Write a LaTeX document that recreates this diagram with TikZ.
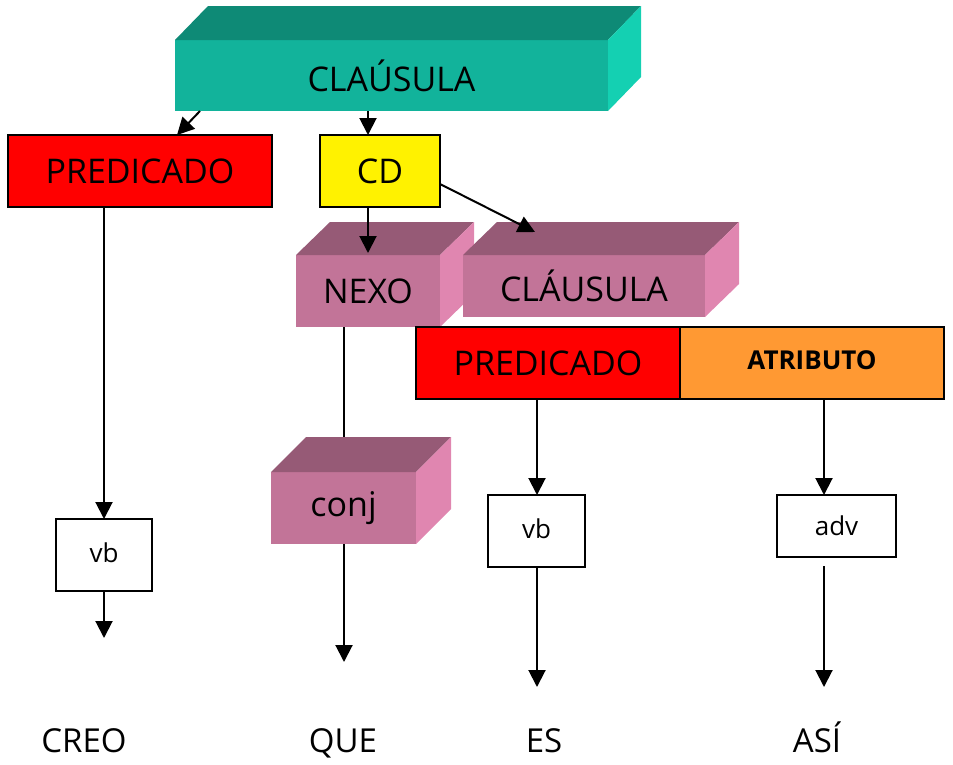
\documentclass[tikz,border=0pt]{standalone}
\usepackage{fontspec}
\setmainfont{Open Sans}
\usetikzlibrary{arrows.meta,calc}
\definecolor{tealF}{RGB}{18,179,155}
\definecolor{tealT}{RGB}{14,138,118}
\definecolor{tealS}{RGB}{20,208,178}
\definecolor{pinkF}{RGB}{194,116,152}
\definecolor{pinkT}{RGB}{150,90,118}
\definecolor{pinkS}{RGB}{224,134,176}
\definecolor{orangeA}{RGB}{255,153,51}
\tikzset{
  big/.style={font=\fontsize{34}{40}\selectfont},
  small/.style={font=\fontsize{26}{30}\selectfont},
  flatbox/.style={draw=black, line width=1.5pt, inner sep=0pt, outer sep=0pt, big},
  front/.style={inner sep=0pt, outer sep=0pt, big},
  arr/.style={-{Triangle[width=17pt,length=17pt]}, line width=2pt},
  ln/.style={line width=2pt},
  word/.style={font=\fontsize{33}{40}\selectfont, inner sep=0pt, anchor=base}
}
\begin{document}
\begin{tikzpicture}[x=1pt,y=-1pt]
\useasboundingbox (0,0) rectangle (953,764);

% top CLAUSULA (3D)
\node[front, fill=tealF, minimum width=433pt, minimum height=71pt] (T) at (391.5,75.5) {CLAÚSULA};
\fill[tealT] (T.north west) -- ($(T.north west)+(33,-34)$) -- ($(T.north east)+(33,-34)$) -- (T.north east) -- cycle;
\fill[tealS] (T.north east) -- ($(T.north east)+(33,-34)$) -- ($(T.south east)+(33,-34)$) -- (T.south east) -- cycle;

% first row
\node[flatbox, fill=red, minimum width=264pt, minimum height=72pt] (P1) at (140,171) {PREDICADO};
\node[flatbox, fill=yellow, minimum width=120pt, minimum height=72pt] (CD) at (380,171) {CD};

% NEXO (3D)
\node[front, fill=pinkF, minimum width=144pt, minimum height=72pt] (N) at (368,291) {NEXO};
\fill[pinkT] (N.north west) -- ($(N.north west)+(34,-33)$) -- ($(N.north east)+(34,-33)$) -- (N.north east) -- cycle;
\fill[pinkS] (N.north east) -- ($(N.north east)+(34,-33)$) -- ($(N.south east)+(34,-33)$) -- (N.south east) -- cycle;

% CLAUSULA (3D, pink)
\node[front, fill=pinkF, minimum width=242pt, minimum height=62pt] (C2) at (584,286) {CLÁUSULA};
\fill[pinkT] (C2.north west) -- ($(C2.north west)+(34,-33)$) -- ($(C2.north east)+(34,-33)$) -- (C2.north east) -- cycle;
\fill[pinkS] (C2.north east) -- ($(C2.north east)+(34,-33)$) -- ($(C2.south east)+(34,-33)$) -- (C2.south east) -- cycle;

% second row
\node[flatbox, fill=red, minimum width=264pt, minimum height=72pt] (P2) at (548,363) {PREDICADO};
\node[flatbox, fill=orangeA, minimum width=264pt, minimum height=72pt, font=\fontsize{26}{30}\selectfont\bfseries] (A) at (812,363) {\raisebox{5pt}{ATRIBUTO}};

% conj (3D)
\node[front, fill=pinkF, minimum width=145pt, minimum height=72pt] (CJ) at (343.5,508) {conj};
\fill[pinkT] (CJ.north west) -- ($(CJ.north west)+(35,-35)$) -- ($(CJ.north east)+(35,-35)$) -- (CJ.north east) -- cycle;
\fill[pinkS] (CJ.north east) -- ($(CJ.north east)+(35,-35)$) -- ($(CJ.south east)+(35,-35)$) -- (CJ.south east) -- cycle;

% small boxes
\node[flatbox, fill=white, small, minimum width=96pt, minimum height=72pt] (V1) at (104,555) {\raisebox{4pt}{vb}};
\node[flatbox, fill=white, small, minimum width=97pt, minimum height=72pt] (V2) at (536.5,531) {\raisebox{4pt}{vb}};
\node[flatbox, fill=white, small, minimum width=119pt, minimum height=62pt] (ADV) at (836.5,526) {adv};

% words
\node[word] (w1) at (84,752) {CREO};
\node[word] (w2) at (343,752) {QUE};
\node[word] (w3) at (544,752) {ES};
\node[word] (w4) at (817,752) {ASÍ};

% free ends
\coordinate (e1) at (104,638);
\coordinate (e2) at (344,662);
\coordinate (e3) at (537,687);
\coordinate (e4) at (824,687);

% connectors
\draw[arr] ($(T.south west)+(25,0)$) -- ($(P1.north)+(37,0)$);
\coordinate (c1) at ($(CD.north)+(-12,0)$);
\draw[arr] (T.south -| c1) -- (c1);
\draw[arr] (CD.south -| N.north) -- ($(N.north)+(0,-2)$);
\draw[arr] ($(CD.east)+(0,13)$) -- ($(C2.north)+(-49,-23)$);
\draw[ln] ($(N.south)+(-24,0)$) -- ($(CJ.north)+(0.5,-35)$);
\draw[arr] (CJ.south -| e2) -- (e2);
\draw[arr] (P1.south -| V1.north) -- (V1.north);
\draw[arr] (V1) -- (e1);
\draw[arr] (P2.south -| e3) -- (V2.north -| e3);
\draw[arr] (V2.south -| e3) -- (e3);
\draw[arr] (A.south -| e4) -- (ADV.north -| e4);
\draw[arr] ($(ADV.south -| e4)+(0,9)$) -- (e4);
\end{tikzpicture}
\end{document}
